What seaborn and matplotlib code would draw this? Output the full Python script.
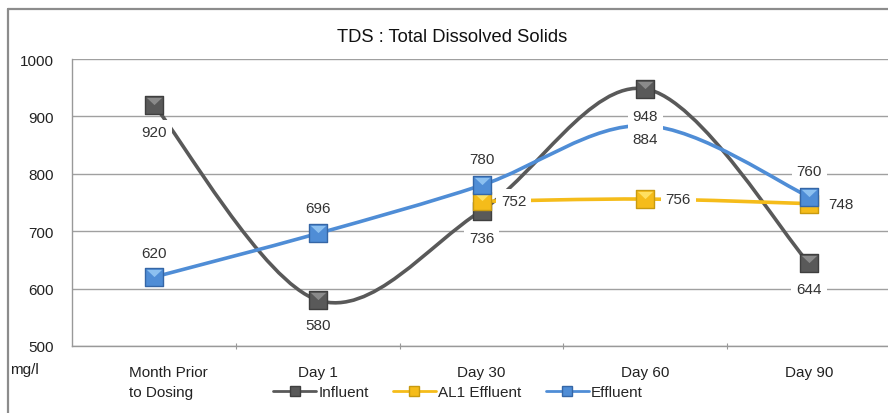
import numpy as np
import pandas as pd
import matplotlib
matplotlib.use("Agg")
import matplotlib.pyplot as plt
import seaborn as sns
from matplotlib.path import Path
from matplotlib.patches import PathPatch
from matplotlib.lines import Line2D
import matplotlib.transforms as mtrans

categories = ["Month Prior\nto Dosing", "Day 1", "Day 30", "Day 60", "Day 90"]
influent = [920, 580, 736, 948, 644]
al1_effluent = [np.nan, np.nan, 752, 756, 748]
effluent = [620, 696, 780, 884, 760]
series_names = ["Influent", "AL1 Effluent", "Effluent"]

# label offsets in pixels (dx, dy) per series point
inf_off = [(0, -27), (0, -25), (0, -27), (0, -27), (0, -26)]
al1_off = [None, None, (32, 0), (33, 0), (32, 0)]
eff_off = [(0, 24), (0, 25), (0, 26), (0, -13), (0, 26)]

colors = {"Influent": "#595959", "AL1 Effluent": "#F5BC1A", "Effluent": "#4F8DD6"}
edges = {"Influent": "#3f3f3f", "AL1 Effluent": "#C89A10", "Effluent": "#3566A6"}
lights = {"Influent": "#8a8a8a", "AL1 Effluent": "#FFE060", "Effluent": "#8CC0F0"}

FS = 11

sns.set_theme(style="white")
plt.rcParams["font.family"] = ["Liberation Sans", "DejaVu Sans"]

fig = plt.figure(figsize=(8.88, 4.14), dpi=100)
ax = fig.add_axes([72 / 888, 1 - 347 / 414, 819 / 888, (347 - 60) / 414])

df = pd.DataFrame({"x": np.arange(len(categories)), "Influent": influent,
                   "AL1 Effluent": al1_effluent, "Effluent": effluent})


def smooth_path(xs, ys):
    pts = [(x, y) for x, y in zip(xs, ys) if not np.isnan(y)]
    P = np.array(pts, dtype=float)
    n = len(P)
    verts = [P[0]]
    codes = [Path.MOVETO]
    for i in range(n - 1):
        p0 = P[i - 1] if i > 0 else P[i]
        p1 = P[i]
        p2 = P[i + 1]
        p3 = P[i + 2] if i + 2 < n else P[i + 1]
        c1 = p1 + (p2 - p0) / 6.0
        c2 = p2 - (p3 - p1) / 6.0
        verts += [c1, c2, p2]
        codes += [Path.CURVE4] * 3
    return Path(verts, codes)


tri = Path([(-1, 1), (1, 1), (0, 0.05), (-1, 1)],
           [Path.MOVETO, Path.LINETO, Path.LINETO, Path.CLOSEPOLY])

order_z = {"Influent": 3, "AL1 Effluent": 4, "Effluent": 5}
for name in series_names:
    z = order_z[name]
    patch = PathPatch(smooth_path(df["x"], df[name]), fill=False,
                      edgecolor=colors[name], lw=2.6, zorder=z, capstyle="round")
    ax.add_patch(patch)
for name in series_names:
    z = order_z[name] + 5
    sub = df.dropna(subset=[name])
    sns.scatterplot(data=sub, x="x", y=name, marker="s", s=150,
                    color=colors[name], edgecolor=edges[name], linewidth=1.0,
                    ax=ax, zorder=z, legend=False)
    ax.scatter(sub["x"], sub[name], marker=tri, s=120,
               color=lights[name], linewidths=0, zorder=z + 0.5)

for name, offs in zip(series_names, [inf_off, al1_off, eff_off]):
    for xi, (v, o) in enumerate(zip(df[name], offs)):
        if o is None or np.isnan(v):
            continue
        ax.annotate(f"{int(v)}", (xi, v), xytext=o, textcoords="offset pixels",
                    ha="center", va="center", fontsize=FS, color="#333333",
                    bbox=dict(boxstyle="square,pad=0.32", fc="white", ec="none"),
                    zorder=20)

ax.set_xlim(-0.5, 4.5)
ax.set_ylim(500, 1000)
ax.set_yticks([500, 600, 700, 800, 900, 1000])
ax.set_xticks(range(len(categories)))
ax.set_xticklabels(categories, fontsize=FS, color="#222222", linespacing=1.5)
ax.set_xticks(np.arange(0.5, 4.5, 1), minor=True)
ax.tick_params(axis="x", which="major", length=0, pad=14)
ax.tick_params(axis="x", which="minor", length=4, width=0.8, color="#999999",
               direction="inout", bottom=True)
ax.tick_params(axis="y", length=0, pad=13, labelsize=FS, labelcolor="#222222")
lbl0 = ax.get_xticklabels()[0]
lbl0.set_multialignment("left")
lbl0.set_transform(lbl0.get_transform() + mtrans.ScaledTranslation(14 / 100, 0.0, fig.dpi_scale_trans))
ax.set_xlabel("")
ax.set_ylabel("")
ax.yaxis.grid(True, color="#a0a0a0", lw=1.0)
ax.set_axisbelow(True)
for s in ["top", "right"]:
    ax.spines[s].set_visible(False)
ax.spines["left"].set_color("#999999")
ax.spines["bottom"].set_color("#999999")
ax.spines["left"].set_linewidth(1.0)
ax.spines["bottom"].set_linewidth(1.0)

fig.text(452 / 888, 1 - 38 / 414, "TDS : Total Dissolved Solids", ha="center",
         va="center", fontsize=13.2, color="#111111")
fig.text(10 / 888, 1 - 370 / 414, "mg/l", ha="left", va="center", fontsize=FS,
         color="#222222")

# outer frame (left and top edges)
fig.add_artist(Line2D([8 / 888, 8 / 888], [0, 1 - 10 / 414], transform=fig.transFigure,
                      color="#8c8c8c", lw=1.6))
fig.add_artist(Line2D([8 / 888, 1], [1 - 10 / 414, 1 - 10 / 414], transform=fig.transFigure,
                      color="#8c8c8c", lw=1.6))

handles = [Line2D([0], [0], color=colors[n], lw=2.0, marker="s", markersize=7,
                  markerfacecolor=colors[n], markeredgecolor=edges[n]) for n in series_names]
fig.legend(handles, series_names, loc="center", ncol=3,
           bbox_to_anchor=(458 / 888, 1 - 393 / 414), frameon=False, fontsize=FS,
           handlelength=2.8, columnspacing=1.6, handletextpad=0.15)

fig.savefig("out.png", dpi=100)
